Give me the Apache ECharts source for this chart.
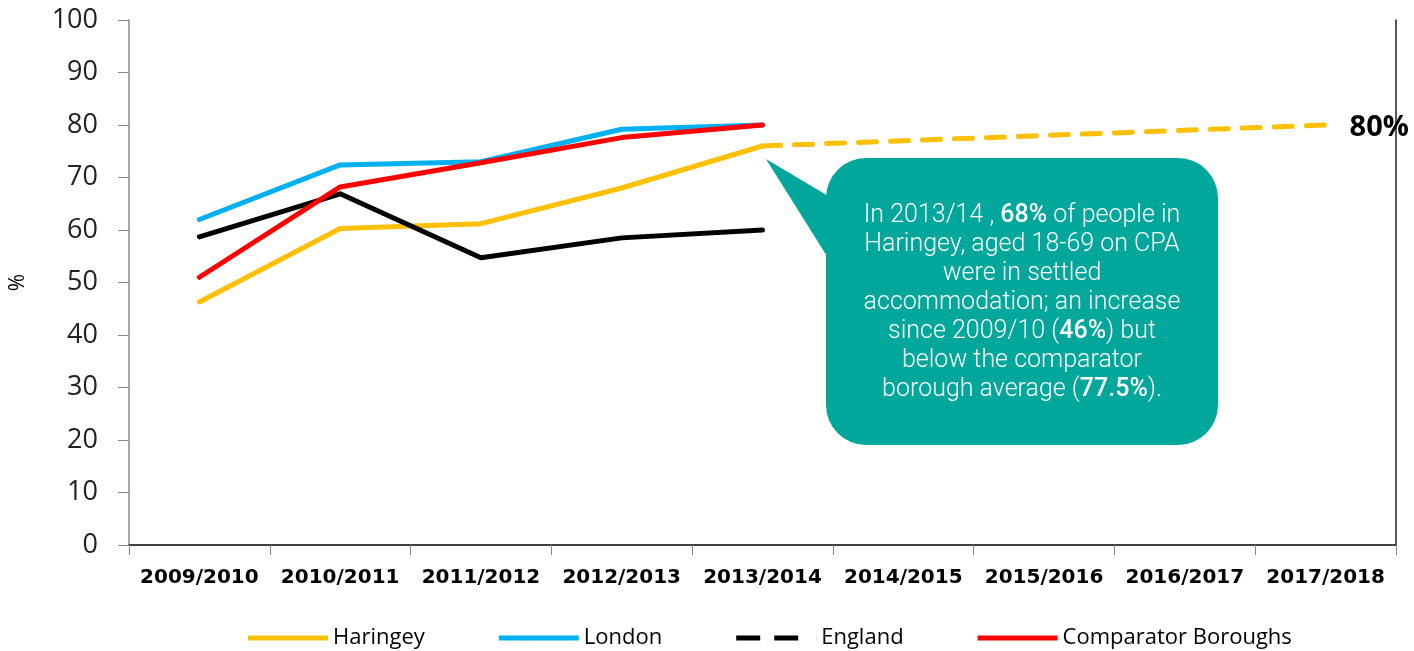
<!DOCTYPE html>
<html>
<head>
<meta charset="utf-8">
<script src="https://cdn.jsdelivr.net/npm/echarts@6/dist/echarts.min.js"></script>
<style>
  html, body { margin: 0; padding: 0; background: #fff; }
  #chart { width: 1414px; height: 651px; }
</style>
</head>
<body>
<div id="chart"></div>
<script>
// 年份类别
const years = ['2009/2010', '2010/2011', '2011/2012', '2012/2013', '2013/2014',
  '2014/2015', '2015/2016', '2016/2017', '2017/2018'];

// 各系列数值 (%)
const haringey = [46.3, 60.3, 61.2, 68.0, 76.0, null, null, null, null];
const london = [62.0, 72.4, 73.0, 79.2, 80.0, null, null, null, null];
const england = [58.7, 66.9, 54.7, 58.5, 60.0, null, null, null, null];
const comparator = [51.0, 68.2, 72.8, 77.6, 80.0, null, null, null, null];
const haringeyTarget = [null, null, null, null, 76.0, 77.0, 78.0, 79.0, 80.0];

const yTicks = { min: 0, max: 100, interval: 10 };

const chart = echarts.init(document.getElementById('chart'));

const lineSeries = (name, data, color, extra) => Object.assign({
  name: name,
  type: 'line',
  data: data,
  symbol: 'none',
  smooth: false,
  lineStyle: { color: color, width: 5, cap: 'round', join: 'round' },
  itemStyle: { color: color },
  z: 3
}, extra || {});

// 图例图标：实线 / 虚线
const solidIcon = 'path://M0,0 L80,0 L80,5 L0,5 Z';
const dashIcon = 'path://M0,0 L24,0 L24,5 L0,5 Z M38,0 L62,0 L62,5 L38,5 Z M79.9,0 L80,0 L80,5 L79.9,5 Z';

const option = {
  animation: false,
  grid: { left: 128, right: 18, top: 20, bottom: 106 },
  legend: {
    left: 243,
    top: 622,
    itemWidth: 80,
    itemHeight: 5,
    itemGap: 74,
    textStyle: { fontFamily: 'Open Sans', fontSize: 22, color: '#000' },
    data: [
      { name: 'Haringey', icon: solidIcon },
      { name: 'London', icon: solidIcon },
      { name: 'England', icon: dashIcon },
      { name: 'Comparator Boroughs', icon: solidIcon }
    ]
  },
  xAxis: [
    {
      type: 'category',
      data: years,
      boundaryGap: true,
      axisLine: { show: true, lineStyle: { color: '#888', width: 1.5 } },
      axisTick: { show: true, interval: 0, length: 10, lineStyle: { color: '#888' } },
      axisLabel: {
        interval: 0,
        margin: 23,
        fontFamily: 'DejaVu Sans',
        fontWeight: 'bold',
        fontSize: 20,
        color: '#000'
      }
    },
    {
      type: 'category',
      data: years,
      position: 'top',
      axisLine: { show: true, lineStyle: { color: '#222', width: 1.5 } },
      axisTick: { show: false },
      axisLabel: { show: false }
    }
  ],
  yAxis: [
    {
      type: 'value',
      min: yTicks.min,
      max: yTicks.max,
      interval: yTicks.interval,
      name: '%',
      nameLocation: 'middle',
      nameGap: 100,
      nameTextStyle: { fontFamily: 'Open Sans', fontSize: 21, color: '#000' },
      axisLine: { show: true, lineStyle: { color: '#888', width: 1.5 } },
      axisTick: { show: true, length: 11, lineStyle: { color: '#888' } },
      splitLine: { show: false },
      axisLabel: {
        margin: 31,
        fontFamily: 'Open Sans',
        fontSize: 27,
        color: '#222'
      }
    },
    {
      type: 'value',
      min: yTicks.min,
      max: yTicks.max,
      interval: yTicks.interval,
      position: 'right',
      axisLine: { show: true, lineStyle: { color: '#222', width: 1.5 } },
      axisTick: { show: false },
      axisLabel: { show: false },
      splitLine: { show: false }
    }
  ],
  series: [
    lineSeries('Haringey', haringey, '#FFC000'),
    lineSeries('London', london, '#00B0F0'),
    lineSeries('England', england, '#000000'),
    lineSeries('Comparator Boroughs', comparator, '#FF0000', { z: 4 }),
    lineSeries('Target', haringeyTarget, '#FFC000', {
      lineStyle: { color: '#FFC000', width: 5, type: [18, 14], cap: 'round' },
      endLabel: {
        show: true,
        distance: 24,
        offset: [0, 3],
        fontFamily: 'Open Sans',
        fontWeight: 'bold',
        fontSize: 29,
        color: '#000',
        formatter: p => p.value + '%'
      }
    })
  ],
  graphic: [
    {
      type: 'polygon',
      shape: { points: [[766, 159], [840, 203], [840, 277]] },
      style: { fill: '#00A79A' },
      z: 10
    },
    {
      type: 'rect',
      shape: { x: 826, y: 158, width: 392, height: 287, r: 40 },
      style: { fill: '#00A79A' },
      z: 10
    },
    {
      type: 'text',
      x: 1022,
      y: 303,
      z: 11,
      style: {
        text: [
          '{n|In 2013/14 , }{b|68%}{n| of people in}',
          '{n|Haringey, aged 18-69 on CPA}',
          '{n|were in settled}',
          '{n|accommodation; an increase}',
          '{n|since 2009/10 (}{b|46%}{n|) but}',
          '{n|below the comparator}',
          '{n|borough average (}{b|77.5%}{n|).}'
        ].join('\n'),
        align: 'center',
        verticalAlign: 'middle',
        fill: '#fff',
        rich: {
          n: { fontFamily: 'Roboto', fontWeight: 300, fontSize: 25, lineHeight: 29, fill: '#fff', color: '#fff' },
          b: { fontFamily: 'Roboto', fontWeight: 500, fontSize: 25, lineHeight: 29, fill: '#fff', color: '#fff' }
        }
      }
    }
  ]
};

chart.setOption(option);
</script>
</body>
</html>
